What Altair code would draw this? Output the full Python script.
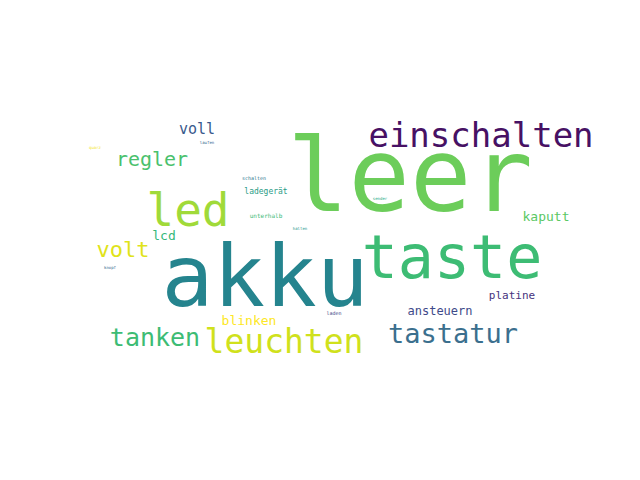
import altair as alt
import pandas as pd

words = ["leer", "akku", "taste", "einschalten", "led", "leuchten", "tastatur",
         "tanken", "volt", "regler", "voll", "lcd", "blinken", "ansteuern",
         "platine", "kaputt", "ladegerät", "unterhalb", "schalten", "laufen",
         "quarz", "knopf", "halten", "laden", "sender"]
pos_x = [410, 265, 452, 481, 188, 284, 453, 155, 123, 152, 197, 164, 249, 440,
         512, 546, 266, 266, 254, 207, 95, 110, 300, 334, 380]
pos_y = [180, 280, 260, 137, 212, 343, 335, 338, 250, 160, 129, 236, 321, 311,
         296, 217, 192, 216, 178, 143, 148, 268, 229, 313, 199]
weight = [102, 86, 60, 34, 46, 33, 27, 25, 22, 20, 15, 13, 13, 12,
          11, 13, 8, 6, 5, 4, 4, 4, 4, 5, 4]
colors = ["#6ccd5a", "#25848e", "#3dbc74", "#471164", "#a0da39", "#d0e11c",
          "#3b6f8e", "#3dbc74", "#e0e31a", "#4ac16d", "#39598c", "#35b779",
          "#fde725", "#3e4a89", "#46337e", "#5ac864", "#2a9c86", "#3aba76",
          "#2a788e", "#33638d", "#f4e61e", "#31688e", "#1f978b", "#414487",
          "#22a884"]

df = pd.DataFrame({"word": words, "x": pos_x, "y": pos_y, "weight": weight,
                   "color": colors})

chart = (
    alt.Chart(df)
    .mark_text(font="DejaVu Sans Mono", baseline="middle", align="center")
    .encode(
        x=alt.X("x:Q", scale=alt.Scale(domain=[8, 632]), axis=None),
        y=alt.Y("y:Q", scale=alt.Scale(domain=[472, 8]), axis=None),
        size=alt.Size("weight:Q", scale=None, legend=None),
        color=alt.Color("color:N", scale=None, legend=None),
        text="word:N",
    )
    .properties(width=624, height=464, padding=0, background="white")
    .configure_view(strokeWidth=0)
)

chart.save("out.html", embed_options={"renderer": "svg", "actions": False})
